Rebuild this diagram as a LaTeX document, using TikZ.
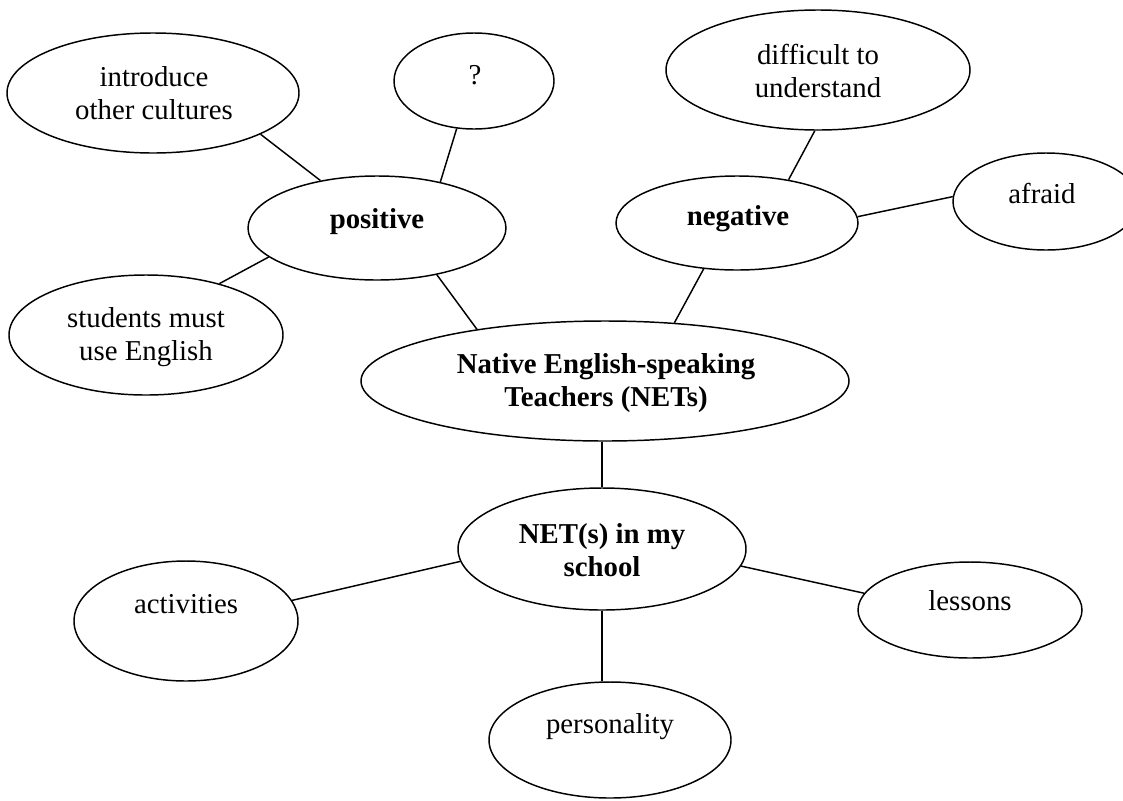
\documentclass[tikz,border=0pt]{standalone}
\usepackage{fontspec}
\setmainfont{Liberation Serif}
\usetikzlibrary{shapes.geometric}
\begin{document}
\begin{tikzpicture}[x=0.75pt,y=-0.75pt,
  ell/.style n args={2}{ellipse, draw, line width=1.1pt, inner sep=0pt, minimum width=#1, minimum height=#2},
  txt/.style={anchor=base, inner sep=0pt, font=\fontsize{21.6}{25}\selectfont},
  btxt/.style={anchor=base, inner sep=0pt, font=\fontsize{21.6}{25}\selectfont\bfseries},
  conn/.style={line width=1.1pt}]
\fill[white] (0,0) rectangle (1123,800);
\useasboundingbox (0,0) rectangle (1123,800);

\node[ell={219pt}{90pt}] (intro) at (153,93) {};
\node[ell={120pt}{72pt}] (q) at (474,81) {};
\node[ell={228pt}{90pt}] (diff) at (818,70) {};
\node[ell={139.5pt}{72.75pt}] (afraid) at (1046,201.5) {};
\node[ell={193.5pt}{78pt}] (pos) at (377,228) {};
\node[ell={181.5pt}{70.5pt}] (neg) at (737,223) {};
\node[ell={205.5pt}{90pt}] (stud) at (146,335) {};
\node[ell={366pt}{90pt}] (nets) at (605,381) {};
\node[ell={216pt}{91.5pt}] (school) at (602,549) {};
\node[ell={168pt}{90pt}] (act) at (186,621) {};
\node[ell={168pt}{72pt}] (less) at (970,610) {};
\node[ell={181.5pt}{87pt}] (pers) at (610,740) {};

\node[txt] (t-intro1) at (154,86) {introduce};
\node[txt] (t-intro2) at (154,119) {other cultures};
\node[txt] (t-q) at (475,84) {?};
\node[txt] (t-diff1) at (818,64) {difficult to};
\node[txt] (t-diff2) at (818,97) {understand};
\node[txt] (t-afraid) at (1042,203) {afraid};
\node[btxt] (t-pos) at (377,228) {positive};
\node[btxt] (t-neg) at (738,225) {negative};
\node[txt] (t-stud1) at (146,327) {students must};
\node[txt] (t-stud2) at (146,360) {use English};
\node[btxt] (t-nets1) at (606,373) {Native English-speaking};
\node[btxt] (t-nets2) at (606,406) {Teachers (NETs)};
\node[btxt] (t-school1) at (602,543) {NET(s) in my};
\node[btxt] (t-school2) at (602,576) {school};
\node[txt] (t-act) at (186,613) {activities};
\node[txt] (t-less) at (970,610) {lessons};
\node[txt] (t-pers) at (610,733) {personality};

\draw[conn] (intro.-21.6) -- (pos.140.5);
\draw[conn] (q.250) -- (pos.36.1);
\draw[conn] (pos.-38) -- (nets.158.3);
\draw[conn] (stud.35.8) -- (pos.195);
\draw[conn] (diff.267) -- (neg.40.2);
\draw[conn] (neg.3.3) -- (afraid.177.2);
\draw[conn] (neg.234.6) -- (nets.40.5);
\draw[conn] (nets.south -| school.north) -- (school.north);
\draw[conn] (school.185.2) -- (act.11.7);
\draw[conn] (school.-7.4) -- (less.171);
\draw[conn] (school.south) -- (school.south |- pers.north);
\end{tikzpicture}
\end{document}
